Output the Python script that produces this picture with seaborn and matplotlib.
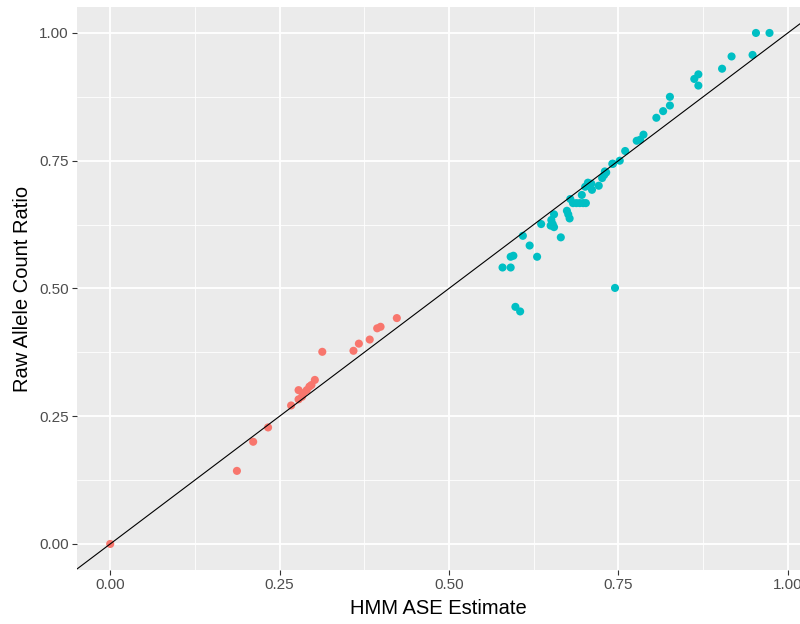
import matplotlib
matplotlib.use("Agg")
import matplotlib.pyplot as plt
import seaborn as sns
import pandas as pd
import numpy as np

# Group 1 (red): HMM ASE estimate vs raw allele count ratio
hmm_red = [0.000, 0.187, 0.211, 0.233, 0.267, 0.278, 0.278, 0.283, 0.285, 0.290,
           0.294, 0.297, 0.302, 0.313, 0.359, 0.367, 0.383, 0.394, 0.399, 0.423]
raw_red = [0.000, 0.143, 0.200, 0.228, 0.271, 0.283, 0.301, 0.288, 0.295, 0.301,
           0.308, 0.311, 0.321, 0.376, 0.378, 0.392, 0.400, 0.422, 0.425, 0.442]

# Group 2 (cyan)
hmm_cyan = [0.973, 0.953, 0.948, 0.917, 0.903, 0.868, 0.862, 0.868, 0.826, 0.826,
            0.816, 0.806, 0.787, 0.777, 0.782, 0.760, 0.752, 0.742, 0.732, 0.729,
            0.726, 0.721, 0.711, 0.710, 0.705, 0.701, 0.696, 0.679, 0.683, 0.688,
            0.693, 0.698, 0.702, 0.674, 0.676, 0.678, 0.655, 0.651, 0.653, 0.655,
            0.650, 0.636, 0.665, 0.609, 0.619, 0.630, 0.591, 0.595, 0.579, 0.591,
            0.745, 0.598, 0.605, 0.741, 0.730]
raw_cyan = [1.000, 1.000, 0.957, 0.954, 0.930, 0.919, 0.910, 0.897, 0.875, 0.858,
            0.847, 0.834, 0.801, 0.789, 0.791, 0.769, 0.750, 0.744, 0.727, 0.722,
            0.716, 0.701, 0.693, 0.705, 0.707, 0.699, 0.683, 0.675, 0.667, 0.667,
            0.667, 0.667, 0.667, 0.652, 0.645, 0.637, 0.645, 0.634, 0.626, 0.620,
            0.623, 0.626, 0.600, 0.603, 0.584, 0.562, 0.562, 0.564, 0.541, 0.541,
            0.501, 0.464, 0.455, 0.744, 0.729]

group_names = ["low", "high"]
colors = ["#F8766D", "#00BFC4"]

df = pd.DataFrame({
    "hmm": hmm_red + hmm_cyan,
    "raw": raw_red + raw_cyan,
    "grp": [group_names[0]] * len(hmm_red) + [group_names[1]] * len(hmm_cyan),
})

x_ticks = [0.0, 0.25, 0.5, 0.75, 1.0]
y_ticks = [0.0, 0.25, 0.5, 0.75, 1.0]
tick_labels = ["0.00", "0.25", "0.50", "0.75", "1.00"]

sns.set_theme(style="darkgrid")
plt.rcParams["font.family"] = ["Liberation Sans", "DejaVu Sans"]

fig = plt.figure(figsize=(8, 6.24), dpi=100)
top_px, bot_px = 7.4, 569.5
ax = fig.add_axes([77 / 800, 1 - bot_px / 624, 1 - 77 / 800, (bot_px - top_px) / 624])
ax.set_facecolor("#EBEBEB")

sns.scatterplot(data=df, x="hmm", y="raw", hue="grp", palette=colors,
                hue_order=group_names, s=34, linewidth=0, legend=False, ax=ax,
                zorder=3)
ax.axline((0, 0), slope=1, color="black", lw=0.8, zorder=4)

ax.set_xlim(-0.049, 1.018)
ax.set_ylim(-0.05, 1.05)
ax.set_xticks(x_ticks)
ax.set_xticklabels(tick_labels)
ax.set_yticks(y_ticks)
ax.set_yticklabels(tick_labels)
ax.set_xticks([0.125, 0.375, 0.625, 0.875], minor=True)
ax.set_yticks([0.125, 0.375, 0.625, 0.875], minor=True)
ax.grid(which="major", color="white", lw=1.3)
ax.grid(which="minor", color="white", lw=0.6)
ax.set_axisbelow(True)
for s in ax.spines.values():
    s.set_visible(False)
ax.tick_params(axis="both", which="major", length=3.5, width=0.8, color="#333333",
               labelsize=11, labelcolor="#4D4D4D", pad=2.5, bottom=True, left=True)
ax.tick_params(axis="both", which="minor", length=0)
ax.set_xlabel("HMM ASE Estimate", fontsize=14.5, color="black", labelpad=5)
ax.set_ylabel("Raw Allele Count Ratio", fontsize=14.5, color="black", labelpad=5)

fig.savefig("out.png", dpi=100)
